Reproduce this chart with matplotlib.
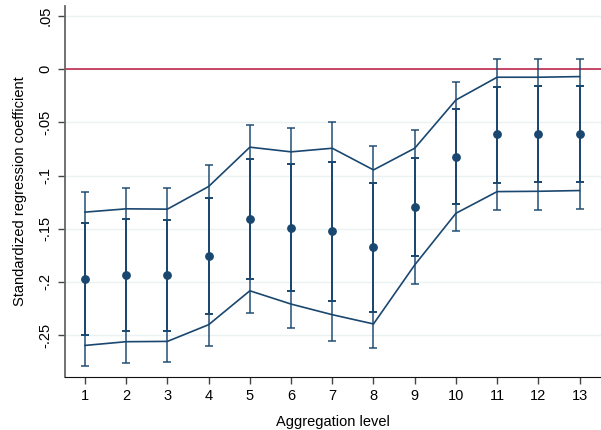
import matplotlib
matplotlib.use("Agg")
import matplotlib.pyplot as plt
import numpy as np

plt.rcParams['font.family'] = ['Liberation Sans', 'DejaVu Sans']

levels = list(range(1, 14))
coef = [-0.1974, -0.1940, -0.1940, -0.1758, -0.1410, -0.1494, -0.1523,
        -0.1675, -0.1293, -0.0822, -0.0611, -0.0611, -0.0605]
inner_hi = [-0.1447, -0.1413, -0.1416, -0.1207, -0.0843, -0.0890, -0.0868,
            -0.1066, -0.0832, -0.0376, -0.0164, -0.0160, -0.0154]
inner_lo = [-0.2497, -0.2463, -0.2460, -0.2300, -0.1977, -0.2090, -0.2184,
            -0.2283, -0.1754, -0.1270, -0.1066, -0.1060, -0.1057]
outer_hi = [-0.1150, -0.1113, -0.1119, -0.0897, -0.0520, -0.0549, -0.0492,
            -0.0721, -0.0568, -0.0119, 0.0094, 0.0097, 0.0100]
outer_lo = [-0.2795, -0.2760, -0.2757, -0.2607, -0.2297, -0.2434, -0.2560,
            -0.2625, -0.2017, -0.1524, -0.1323, -0.1320, -0.1314]
band_hi = [-0.1344, -0.1313, -0.1316, -0.1103, -0.0733, -0.0777, -0.0743,
           -0.0947, -0.0743, -0.0289, -0.0075, -0.0075, -0.0069]
band_lo = [-0.2598, -0.2563, -0.2560, -0.2403, -0.2084, -0.2209, -0.2309,
           -0.2396, -0.1841, -0.1355, -0.1151, -0.1148, -0.1141]
yticks = [0.05, 0, -0.05, -0.1, -0.15, -0.2, -0.25]
yticklabels = ['.05', '0', '-.05', '-.1', '-.15', '-.2', '-.25']

navy = '#1a476f'
fig = plt.figure(figsize=(6.01, 4.30), dpi=100)
ax = fig.add_axes([65/601, 53/430, 536/601, 371/430])

for y in yticks:
    ax.axhline(y, color='#eaf2f3', lw=1.0, zorder=0)
ax.axhline(0, color='#c0284f', lw=1.2, zorder=1)

x = np.array(levels)
c = np.array(coef)
ax.errorbar(x, c, yerr=[c - np.array(outer_lo), np.array(outer_hi) - c],
            fmt='none', ecolor=navy, elinewidth=1.4, capsize=2.7, capthick=1.4,
            alpha=0.75, zorder=2)
ax.errorbar(x, c, yerr=[c - np.array(inner_lo), np.array(inner_hi) - c],
            fmt='none', ecolor=navy, elinewidth=1.4, capsize=2.7, capthick=1.4,
            zorder=3)
ax.plot(x, band_hi, color=navy, lw=1.2, zorder=3)
ax.plot(x, band_lo, color=navy, lw=1.2, zorder=3)
ax.plot(x, c, 'o', color=navy, ms=5.3, zorder=4)

ax.set_xlim(0.515, 13.52)
ax.set_ylim(-0.2895, 0.0595)
ax.set_xticks(levels)
ax.set_yticks(yticks)
ax.set_yticklabels(yticklabels, rotation=90, va='center')
ax.tick_params(axis='both', labelsize=10.5, length=5, width=1, color='#444444')
ax.tick_params(axis='y', pad=4)
ax.spines['top'].set_visible(False)
ax.spines['right'].set_visible(False)
ax.spines['left'].set_color('#666666')
ax.spines['left'].set_linewidth(1.3)
ax.spines['bottom'].set_color('#111111')
ax.set_xlabel('Aggregation level', fontsize=10.5, labelpad=9)
ax.set_ylabel('Standardized regression coefficient', fontsize=10.5, labelpad=8)

fig.savefig('out.png', dpi=100)
